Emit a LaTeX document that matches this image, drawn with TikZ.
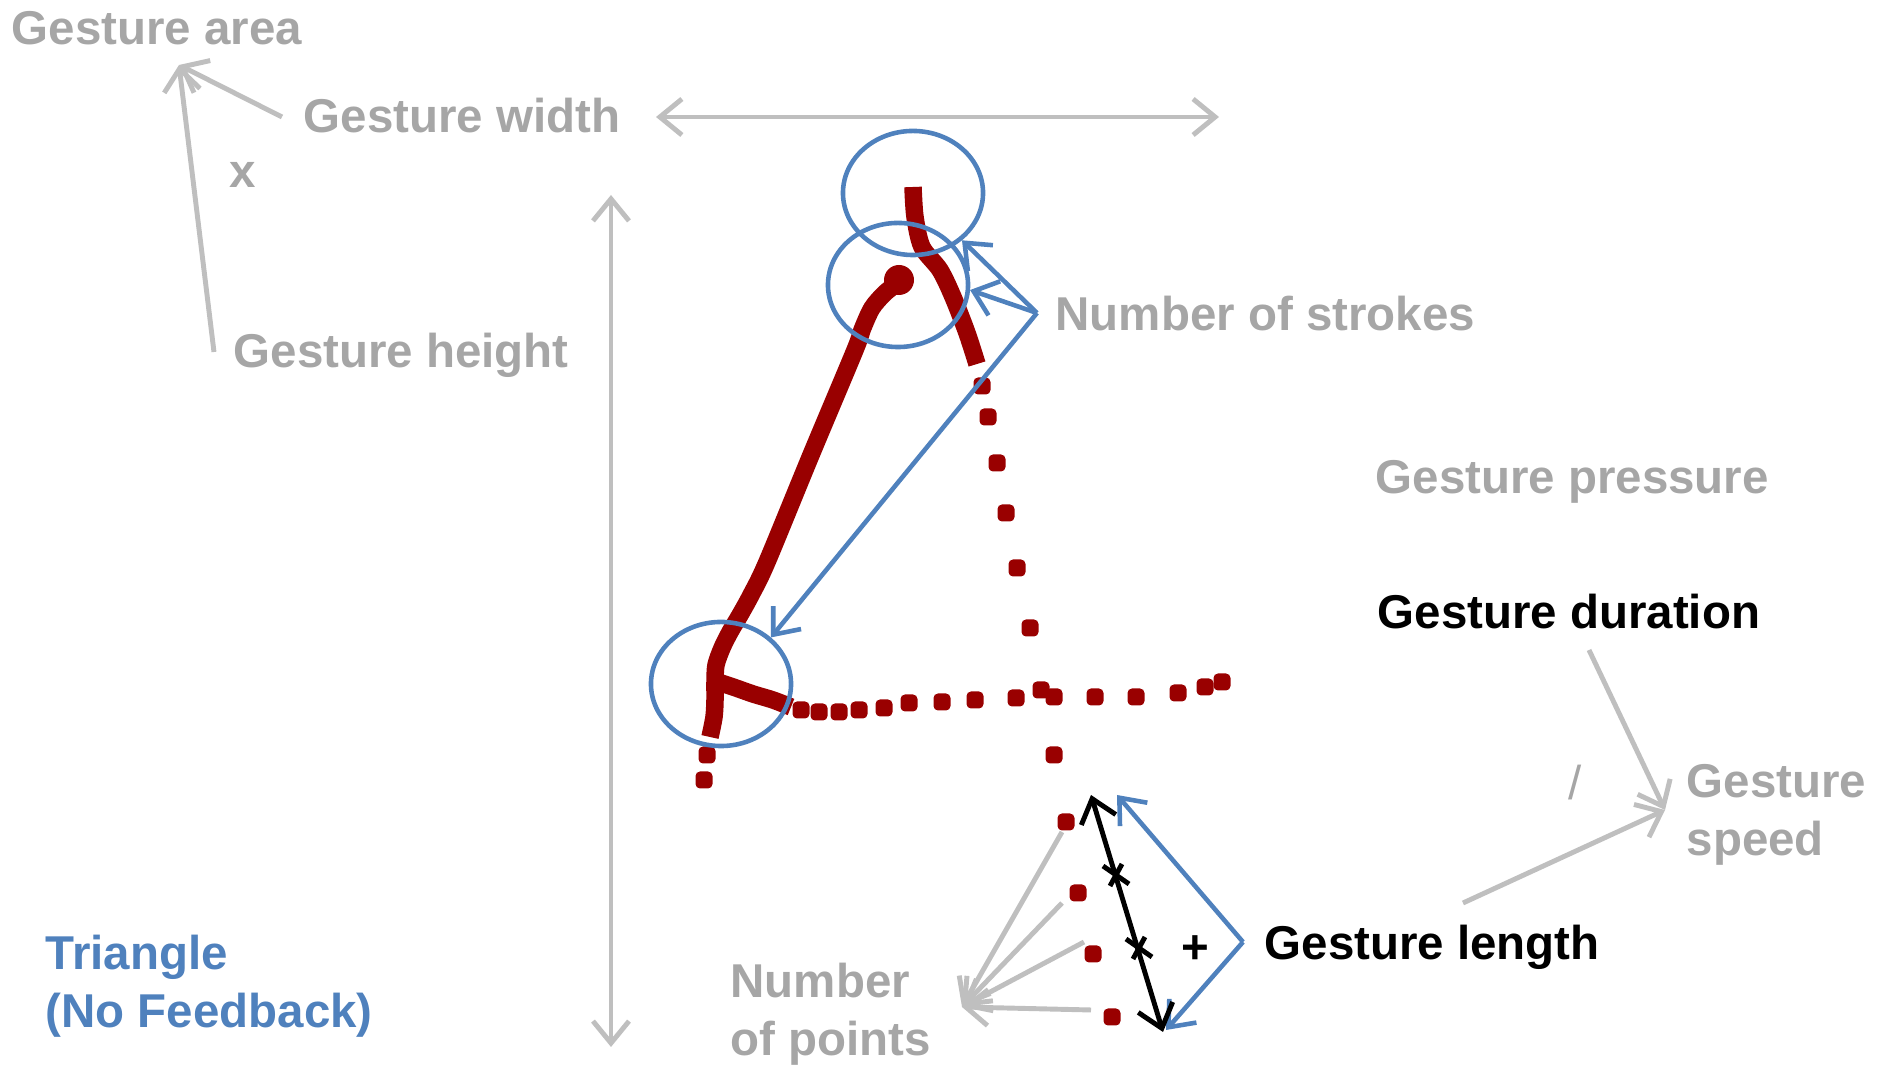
\documentclass[tikz,border=0pt]{standalone}
\usepackage{fontspec}
\setmainfont{Liberation Sans}
\usetikzlibrary{arrows.meta, shapes.geometric}
\definecolor{labelgray}{RGB}{166,166,166}
\definecolor{arrowgray}{RGB}{191,191,191}
\definecolor{markblue}{RGB}{79,129,189}
\definecolor{inkred}{RGB}{153,0,0}

\begin{document}
\begin{tikzpicture}[
    x=0.01cm, y=-0.01cm,
    every node/.style={font=\fontsize{13.5}{16.5}\selectfont\bfseries},
    tag/.style={anchor=base west, inner sep=0pt, align=left, text=labelgray},
    keytag/.style={tag, text=black},
    grayarrow/.style={-{Straight Barb[length=2.2mm, width=3.6mm]}, arrowgray, line width=1.4pt},
    bluearrow/.style={-{Straight Barb[length=2.2mm, width=3.6mm]}, markblue, line width=1.3pt},
    ring/.style={ellipse, draw=markblue, line width=1.3pt, minimum width=1.4cm, minimum height=1.24cm, inner sep=0pt},
    inkline/.style={inkred, line width=1.75mm},
    inkdot/.style={fill=inkred, rounded corners=0.45mm}
]
\useasboundingbox (0,0) rectangle (1887,1065);

% labels
\node[tag] (area) at (11,45) {Gesture area};
\node[tag] (width) at (303,133) {Gesture width};
\node[tag] (times) at (229,188) {x};
\node[tag] (height) at (233,368) {Gesture height};
\node[tag] (strokes) at (1055,331) {Number of strokes};
\node[tag] (pressure) at (1375,494) {Gesture pressure};
\node[keytag] (duration) at (1377,629) {Gesture duration};
\node[tag] (speed) at (1686,856) {Gesture\\speed};
\node[tag, font=\fontsize{13.5}{16.5}\selectfont] (slash) at (1568,800) {/};
\node[keytag] (length) at (1264,960) {Gesture length};
\node[keytag, anchor=base] (plus) at (1195,964) {+};
\node[tag] (points) at (730,1056) {Number\\of points};
\node[tag, text=markblue] (shape) at (45,1028) {Triangle\\(No Feedback)};

% gesture trace
\draw[inkline] plot[smooth] coordinates {(913,187) (915,217) (922,247) (940,270) (953,297) (967,333) (977,364)};
\fill[inkred] (899,280) circle (0.15cm);
\draw[inkline] plot[smooth] coordinates {(899,282) (885,293) (872,308) (862,330) (855,350) (811,455) (767,562) (751,595) (740,615) (730,632) (722,648) (716,665) (715,682) (715,700) (714,717) (710,737)};
\draw[inkline] plot[smooth] coordinates {(718,682) (736,688) (753,694) (773,700) (791,707)};
\foreach \px/\py in {982/386, 988/417, 997/463, 1006/513, 1017/568, 1030/628, 1041/690, 1054/755,
    1066/822, 1078/893, 1093/954, 1112/1017, 707/755, 704/780,
    801/710, 819/712, 839/712, 859/710, 884/708, 909/703, 942/702, 975/700, 1016/698,
    1054/697, 1095/697, 1136/697, 1178/693, 1205/687, 1222/682}
  \fill[inkdot] (\px-8.5,\py-8.5) rectangle ++(17,17);

% stroke starts
\node[ring] (ring1) at (913,193) {};
\node[ring] (ring2) at (898,285) {};
\node[ring] (ring3) at (721,684) {};

% coordinates for free ends
\coordinate (areatip) at (179,65);
\coordinate (widthfoot) at (282,117);
\coordinate (heightfoot) at (214,352);
\coordinate (wleft) at (656,117);
\coordinate (wright) at (1219,117);
\coordinate (htop) at (611,195);
\coordinate (hbottom) at (611,1047);
\coordinate (strokesfan) at (1037,313);
\coordinate (durfoot) at (1589,650);
\coordinate (lenfoot) at (1463,903);
\coordinate (speedtip) at (1665,810);
\coordinate (lenfan) at (1243,942);
\coordinate (segtop) at (1091,795);
\coordinate (segbottom) at (1163,1032);
\coordinate (bluetop) at (1117,795);
\coordinate (bluebottom) at (1166,1030);
\coordinate (pointstip) at (962,1007);

\draw[grayarrow] (widthfoot) -- (areatip);
\draw[grayarrow] (heightfoot) -- (areatip);
\draw[grayarrow, {Straight Barb[length=2.2mm, width=3.6mm]}-{Straight Barb[length=2.2mm, width=3.6mm]}] (wleft) -- (wright);
\draw[grayarrow, {Straight Barb[length=2.2mm, width=3.6mm]}-{Straight Barb[length=2.2mm, width=3.6mm]}] (htop) -- (hbottom);
\draw[grayarrow] (durfoot) -- (speedtip);
\draw[grayarrow] (lenfoot) -- (speedtip);
\foreach \px/\py in {1062/832, 1062/903, 1084/942, 1091/1010}
  \draw[grayarrow] (\px,\py) -- (pointstip);

\draw[bluearrow] (strokesfan) -- (ring1.-44);
\draw[bluearrow] (strokesfan) -- (ring2.-4);
\draw[bluearrow] (strokesfan) -- (ring3.43);
\draw[bluearrow] (lenfan) -- (bluetop);
\draw[bluearrow] (lenfan) -- (bluebottom);

\draw[{Straight Barb[length=2.2mm, width=3.6mm]}-{Straight Barb[length=2.2mm, width=3.6mm]}, line width=1.4pt] (segtop) -- (segbottom);
\foreach \cx/\cy in {1116/875, 1139/948} {
  \draw[line width=1.4pt] (\cx-13,\cy-9) -- (\cx+13,\cy+9);
  \draw[line width=1.4pt] (\cx-6,\cy+11) -- (\cx+6,\cy-11);
}
\end{tikzpicture}
\end{document}
